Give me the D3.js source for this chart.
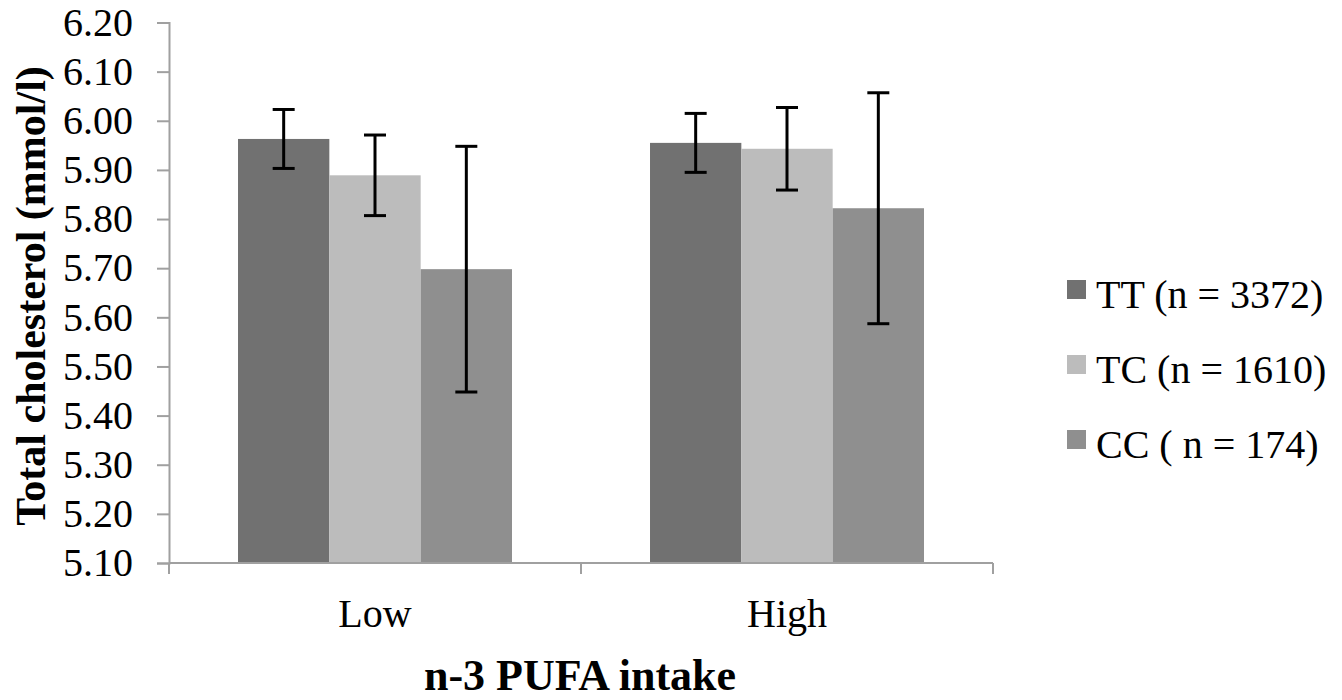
<!DOCTYPE html>
<html>
<head>
<meta charset="utf-8">
<script src="https://cdn.jsdelivr.net/npm/d3@7"></script>
<style>
  body { margin: 0; background: #fff; }
  svg text { font-family: "Liberation Serif", "Times New Roman", serif; fill: #000; }
</style>
</head>
<body>
<script>
const w = 1342;
const h = 700;

// data
const categories = ["Low", "High"];
const genotypes = ["TT (n = 3372)", "TC (n = 1610)", "CC ( n = 174)"];
const ttMeans = [5.963, 5.955];
const tcMeans = [5.889, 5.943];
const ccMeans = [5.698, 5.822];
const ttErr = [0.060, 0.060];
const tcErr = [0.082, 0.084];
const ccErr = [0.250, 0.235];
const yTicks = [5.1, 5.2, 5.3, 5.4, 5.5, 5.6, 5.7, 5.8, 5.9, 6.0, 6.1, 6.2];
const colors = ["#717171", "#bcbcbc", "#8f8f8f"];

const means = [ttMeans, tcMeans, ccMeans];
const errs = [ttErr, tcErr, ccErr];

const plotLeft = 169, plotRight = 993, plotTop = 22.5, plotBottom = 563;

const svg = d3.select("body")
  .append("svg")
  .attr("width", w)
  .attr("height", h);

const x0 = d3.scaleBand()
  .domain(categories)
  .range([plotLeft, plotRight])
  .paddingInner(0.335)
  .paddingOuter(0.1675);

const x1 = d3.scaleBand()
  .domain(genotypes)
  .range([0, x0.bandwidth()]);

const y = d3.scaleLinear()
  .domain([5.1, 6.2])
  .range([plotBottom, plotTop]);

// bars
const groups = svg.append("g")
  .selectAll("g")
  .data(categories)
  .join("g")
  .attr("transform", d => `translate(${x0(d)},0)`);

groups.selectAll("rect")
  .data((c, ci) => genotypes.map((g, gi) => ({ g, gi, v: means[gi][ci], e: errs[gi][ci] })))
  .join("rect")
  .attr("x", d => x1(d.g))
  .attr("y", d => y(d.v))
  .attr("width", x1.bandwidth())
  .attr("height", d => y(5.1) - y(d.v))
  .attr("fill", d => colors[d.gi]);

// error bars
const eb = groups.selectAll("g.err")
  .data((c, ci) => genotypes.map((g, gi) => ({ g, v: means[gi][ci], e: errs[gi][ci] })))
  .join("g")
  .attr("class", "err")
  .attr("stroke", "#000")
  .attr("stroke-width", 3);

const cx = d => x1(d.g) + x1.bandwidth() / 2;
eb.append("line")
  .attr("x1", cx).attr("x2", cx)
  .attr("y1", d => y(d.v + d.e)).attr("y2", d => y(d.v - d.e));
eb.append("line")
  .attr("x1", d => cx(d) - 11).attr("x2", d => cx(d) + 11)
  .attr("y1", d => y(d.v + d.e)).attr("y2", d => y(d.v + d.e));
eb.append("line")
  .attr("x1", d => cx(d) - 11).attr("x2", d => cx(d) + 11)
  .attr("y1", d => y(d.v - d.e)).attr("y2", d => y(d.v - d.e));

// y axis
const yAxis = d3.axisLeft(y)
  .tickValues(yTicks)
  .tickFormat(d3.format(".2f"))
  .tickSize(12)
  .tickPadding(24);

svg.append("g")
  .attr("class", "y axis")
  .attr("transform", `translate(${plotLeft},0)`)
  .call(yAxis)
  .call(g => g.selectAll("path, line").attr("stroke", "#a0a0a0").attr("stroke-width", 2))
  .call(g => g.selectAll("text").attr("font-size", 40).attr("font-family", "Liberation Serif").attr("fill", "#000"));

// x axis: ticks at category boundaries
const xAxisG = svg.append("g").attr("class", "x axis");
xAxisG.append("line")
  .attr("x1", plotLeft).attr("x2", plotRight)
  .attr("y1", plotBottom).attr("y2", plotBottom)
  .attr("stroke", "#a0a0a0").attr("stroke-width", 2);
const bounds = [plotLeft, (x0("Low") + x0.bandwidth() + x0("High")) / 2, plotRight];
xAxisG.selectAll("line.tick")
  .data(bounds)
  .join("line")
  .attr("class", "tick")
  .attr("x1", d => d).attr("x2", d => d)
  .attr("y1", plotBottom).attr("y2", plotBottom + 11)
  .attr("stroke", "#a0a0a0").attr("stroke-width", 2);
xAxisG.selectAll("text")
  .data(categories)
  .join("text")
  .attr("x", d => x0(d) + x0.bandwidth() / 2)
  .attr("y", 627)
  .attr("text-anchor", "middle")
  .attr("font-size", 40)
  .text(d => d);

// axis titles
svg.append("text")
  .attr("x", 580)
  .attr("y", 690)
  .attr("text-anchor", "middle")
  .attr("font-size", 44)
  .attr("font-weight", "bold")
  .text("n-3 PUFA intake");

svg.append("text")
  .attr("transform", "translate(45,296) rotate(-90)")
  .attr("text-anchor", "middle")
  .attr("font-size", 42)
  .attr("font-weight", "bold")
  .text("Total cholesterol (mmol/l)");

// legend
const legend = svg.append("g")
  .selectAll("g")
  .data(genotypes)
  .join("g")
  .attr("transform", (d, i) => `translate(1067,${280 + i * 75})`);
legend.append("rect")
  .attr("width", 19).attr("height", 19)
  .attr("fill", (d, i) => colors[i]);
legend.append("text")
  .attr("x", 29)
  .attr("y", 28)
  .attr("font-size", 40)
  .text(d => d);
</script>
</body>
</html>
